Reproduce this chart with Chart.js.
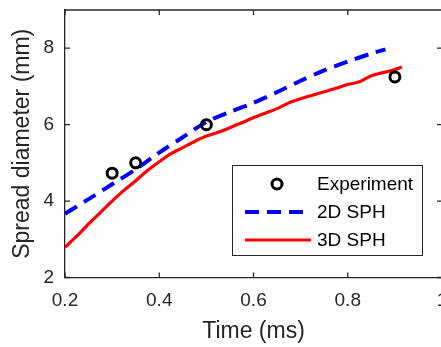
<!DOCTYPE html>
<html>
<head>
<meta charset="utf-8">
<script src="https://cdn.jsdelivr.net/npm/chart.js@4/dist/chart.umd.min.js"></script>
<style>
html,body{margin:0;padding:0;background:#fff;width:441px;height:347px;overflow:hidden;}
#wrap{position:relative;width:450px;height:347px;}
</style>
</head>
<body>
<div id="wrap"><canvas id="c" width="450" height="347"></canvas></div>
<script>
const xTicks = [0.2, 0.4, 0.6, 0.8, 1];
const yTicks = [2, 4, 6, 8];
const expTime = [0.30, 0.35, 0.50, 0.90];
const expDiam = [4.73, 5.00, 6.00, 7.25];
const sph2dTime = [0.20,0.25,0.30,0.35,0.40,0.45,0.50,0.55,0.60,0.65,0.70,0.75,0.80,0.85,0.88];
const sph2dDiam = [3.67,4.05,4.44,4.83,5.27,5.67,6.07,6.33,6.57,6.85,7.15,7.42,7.65,7.86,7.97];
const sph3dTime = [0.20,0.225,0.25,0.275,0.30,0.325,0.35,0.375,0.40,0.425,0.45,0.475,0.50,0.525,0.55,0.575,0.60,0.625,0.65,0.675,0.70,0.725,0.75,0.775,0.80,0.825,0.85,0.875,0.90,0.915];
const sph3dDiam = [2.79,3.08,3.40,3.70,4.00,4.28,4.53,4.80,5.03,5.24,5.40,5.56,5.70,5.80,5.92,6.05,6.18,6.30,6.42,6.57,6.68,6.77,6.86,6.95,7.05,7.12,7.28,7.36,7.44,7.51];
const labels = ['Experiment', '2D SPH', '3D SPH'];

const pts = (xs, ys) => xs.map((x, i) => ({x: x, y: ys[i]}));
const AX = '#262626';
const FONT = 'Liberation Sans, Arial, sans-serif';

const framePlugin = {
  id: 'frame',
  afterDatasetsDraw(chart) {
    const {ctx, chartArea: a, scales: {x, y}} = chart;
    ctx.save();
    ctx.strokeStyle = AX;
    ctx.lineWidth = 1.3;
    ctx.beginPath();
    ctx.moveTo(a.left, a.top); ctx.lineTo(a.right, a.top); ctx.lineTo(a.right, a.bottom);
    ctx.stroke();
    const L = 5;
    ctx.beginPath();
    xTicks.forEach(v => {
      const px = x.getPixelForValue(v);
      ctx.moveTo(px, a.bottom); ctx.lineTo(px, a.bottom - L);
      ctx.moveTo(px, a.top); ctx.lineTo(px, a.top + L);
    });
    yTicks.forEach(v => {
      const py = y.getPixelForValue(v);
      ctx.moveTo(a.left, py); ctx.lineTo(a.left + L, py);
      ctx.moveTo(a.right, py); ctx.lineTo(a.right - L, py);
    });
    ctx.stroke();
    ctx.restore();
  },
  afterDraw(chart) {
    const ctx = chart.ctx;
    const ds = chart.data.datasets;
    const bx = 232, by = 165, bw = 190, bh = 90;
    ctx.save();
    ctx.fillStyle = '#fff';
    ctx.fillRect(bx, by, bw, bh);
    ctx.strokeStyle = AX;
    ctx.lineWidth = 1;
    ctx.strokeRect(bx + 0.5, by + 0.5, bw, bh);
    const rows = [184, 212, 240];
    ctx.font = '19px ' + FONT;
    ctx.textBaseline = 'middle';
    ctx.fillStyle = '#000';
    labels.forEach((t, i) => {
      ctx.fillText(t, 317, rows[i] + 1);
    });
    ctx.beginPath();
    ctx.arc(277, rows[0], 5, 0, Math.PI * 2);
    ctx.strokeStyle = ds[0].borderColor;
    ctx.lineWidth = 3;
    ctx.stroke();
    ctx.beginPath();
    ctx.setLineDash(ds[1].borderDash);
    ctx.strokeStyle = ds[1].borderColor;
    ctx.lineWidth = ds[1].borderWidth;
    ctx.moveTo(245, rows[1]); ctx.lineTo(311, rows[1]);
    ctx.stroke();
    ctx.setLineDash([]);
    ctx.beginPath();
    ctx.strokeStyle = ds[2].borderColor;
    ctx.lineWidth = ds[2].borderWidth;
    ctx.moveTo(245, rows[2]); ctx.lineTo(311, rows[2]);
    ctx.stroke();
    ctx.restore();
  }
};

new Chart(document.getElementById('c'), {
  type: 'line',
  data: {
    datasets: [
      {label: labels[0], data: pts(expTime, expDiam), showLine: false, pointRadius: 5, pointHoverRadius: 5,
       pointBorderWidth: 3, borderColor: '#000', pointBorderColor: '#000', pointBackgroundColor: 'rgba(0,0,0,0)', backgroundColor: 'rgba(0,0,0,0)'},
      {label: labels[1], data: pts(sph2dTime, sph2dDiam), borderColor: '#0000ff', borderWidth: 4, borderDash: [14, 8],
       pointRadius: 0, tension: 0.3, fill: false},
      {label: labels[2], data: pts(sph3dTime, sph3dDiam), borderColor: '#ff0000', borderWidth: 3.2,
       pointRadius: 0, tension: 0.3, fill: false}
    ]
  },
  options: {
    responsive: false,
    animation: false,
    events: [],
    layout: {padding: {top: 10, right: 8, left: 0, bottom: 0}},
    plugins: {legend: {display: false}, tooltip: {enabled: false}},
    scales: {
      x: {
        type: 'linear', min: 0.2, max: 1,
        afterBuildTicks: s => { s.ticks = xTicks.map(v => ({value: v})); },
        afterFit: s => { s.height = 69.5; s.paddingLeft = 0; s.paddingRight = 0; },
        grid: {display: false, drawTicks: false},
        border: {display: true, color: AX, width: 1.3},
        ticks: {color: AX, font: {family: FONT, size: 19}, padding: 12, maxRotation: 0, callback: v => String(v)},
        title: {display: true, text: 'Time (ms)', color: AX, font: {family: FONT, size: 23}, padding: {top: 0, bottom: 2}}
      },
      y: {
        type: 'linear', min: 2, max: 9,
        afterBuildTicks: s => { s.ticks = yTicks.map(v => ({value: v})); },
        afterFit: s => { s.width = 65; s.paddingTop = 0; s.paddingBottom = 0; },
        grid: {display: false, drawTicks: false},
        border: {display: true, color: AX, width: 1.3},
        ticks: {color: AX, font: {family: FONT, size: 19}, padding: 11},
        title: {display: true, text: 'Spread diameter (mm)', color: AX, font: {family: FONT, size: 23}, padding: {top: 9, bottom: 0}}
      }
    }
  },
  plugins: [framePlugin]
});
</script>
</body>
</html>
